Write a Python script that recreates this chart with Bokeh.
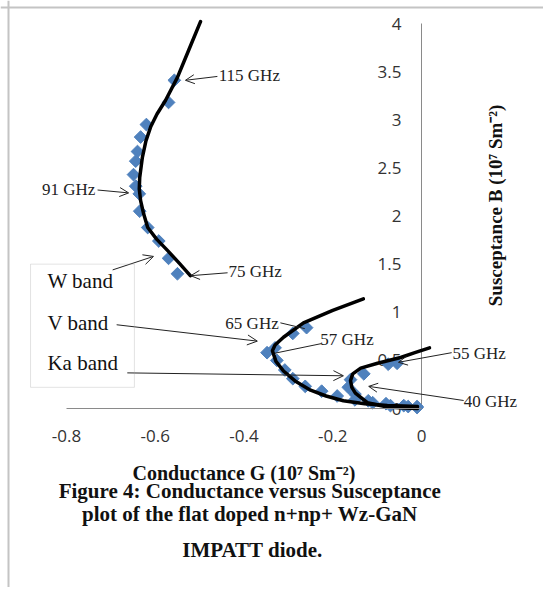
import math
from bokeh.plotting import figure
from bokeh.models import (Range1d, LinearAxis, FixedTicker, Label, Arrow, OpenHead,
                          BoxAnnotation, Span)
from bokeh.embed import file_html
from bokeh.resources import INLINE

# ---------------- data ----------------
# W band measured points
w_g = [-0.557, -0.570, -0.620, -0.633, -0.640, -0.644, -0.649, -0.644, -0.636, -0.635, -0.617, -0.592, -0.570, -0.550]
w_b = [3.41, 3.18, 2.95, 2.82, 2.67, 2.57, 2.43, 2.31, 2.23, 2.05, 1.88, 1.74, 1.56, 1.40]
# W band fitted curve
w_fit_g = [-0.498, -0.524, -0.550, -0.577, -0.596, -0.610, -0.621, -0.629, -0.635, -0.636, -0.633, -0.626, -0.617, -0.597, -0.572, -0.546, -0.521]
w_fit_b = [4.02, 3.73, 3.44, 3.20, 3.06, 2.93, 2.78, 2.61, 2.40, 2.28, 2.16, 2.02, 1.88, 1.76, 1.64, 1.51, 1.38]

# V band measured points
v_g = [-0.259, -0.290, -0.330, -0.348, -0.326, -0.308, -0.290, -0.262, -0.225, -0.190, -0.150, -0.110, -0.070, -0.030, -0.010]
v_b = [0.84, 0.78, 0.63, 0.58, 0.50, 0.40, 0.31, 0.23, 0.18, 0.13, 0.09, 0.06, 0.03, 0.02, 0.01]
# V band fitted curve
v_fit_g = [-0.131, -0.200, -0.266, -0.311, -0.330, -0.336, -0.328, -0.311, -0.283, -0.250, -0.215, -0.176, -0.128, -0.077, -0.040, -0.009]
v_fit_b = [1.14, 1.02, 0.89, 0.74, 0.66, 0.60, 0.49, 0.39, 0.28, 0.19, 0.13, 0.08, 0.05, 0.03, 0.025, 0.02]

# Ka band measured points
ka_g = [-0.055, -0.075, -0.130, -0.160, -0.165, -0.150, -0.120, -0.080, -0.040, -0.010]
ka_b = [0.47, 0.46, 0.36, 0.30, 0.22, 0.15, 0.08, 0.05, 0.03, 0.02]
# Ka band fitted curve
ka_fit_g = [0.018, -0.015, -0.047, -0.099, -0.137, -0.155, -0.160, -0.157, -0.149, -0.122, -0.077, -0.040, -0.009]
ka_fit_b = [0.63, 0.58, 0.53, 0.47, 0.42, 0.36, 0.29, 0.22, 0.16, 0.06, 0.015, 0.005, 0.0]

# axis ticks
x_ticks = [-0.8, -0.6, -0.4, -0.2, 0]
x_tick_labels = ["-0.8", "-0.6", "-0.4", "-0.2", "0"]
y_ticks = [0, 0.5, 1, 1.5, 2, 2.5, 3, 3.5, 4]
y_tick_labels = ["0", "0.5", "1", "1.5", "2", "2.5", "3", "3.5", "4"]

freq_labels = ["115 GHz", "91 GHz", "75 GHz", "65 GHz", "57 GHz", "55 GHz", "40 GHz"]
band_labels = ["W band", "V band", "Ka band"]

# ---------------- figure ----------------
W, H = 543, 587
PX_X = 443.75   # pixels per unit of G
PX_Y = 96.25    # pixels per unit of B
G0_PX, B0_PX = 421, 408   # picture position of the origin
x0 = -G0_PX / PX_X
x1 = (W - G0_PX) / PX_X
y1 = B0_PX / PX_Y
y0 = -(H - B0_PX) / PX_Y

p = figure(width=W, height=H,
           x_range=Range1d(x0, x1), y_range=Range1d(y0, y1),
           x_axis_location=None, y_axis_location=None,
           output_backend="svg", toolbar_location=None,
           min_border=0, min_border_top=0, min_border_right=0,
           min_border_left=0, min_border_bottom=0)
p.outline_line_color = None
p.xgrid.visible = False
p.ygrid.visible = False
p.background_fill_color = "white"
p.border_fill_color = "white"

AX_COLOR = "#8a8a8a"
TICK_FONT = "Open Sans"
SERIF = "Liberation Serif"

# document frame lines (left and top edge of the page)
p.add_layout(Span(location=(8 - G0_PX) / PX_X, dimension="height", line_color="#c4c4c4", line_width=2))
p.add_layout(Span(location=(B0_PX - 7) / PX_Y, dimension="width", line_color="#c4c4c4", line_width=2))

# y axis at G = 0, labels on its left, drawn beneath the data
yax = LinearAxis(ticker=FixedTicker(ticks=y_ticks), fixed_location=0, bounds=(0, 4),
                 major_label_overrides={t: s for t, s in zip(y_ticks, y_tick_labels)})
yax.level = "underlay"
yax.axis_line_color = AX_COLOR
yax.major_tick_in = 0
yax.major_tick_out = 0
yax.minor_tick_line_color = None
yax.major_label_standoff = 20
yax.major_label_text_font = TICK_FONT
yax.major_label_text_font_size = "17px"
yax.major_label_text_color = "#333333"
p.add_layout(yax, "left")

# x axis at B = 0
xax = LinearAxis(ticker=FixedTicker(ticks=x_ticks), fixed_location=0, bounds=(-0.8, 0),
                 major_label_overrides={t: s for t, s in zip(x_ticks, x_tick_labels)},
                 axis_label="Conductance G (10\u2077 Sm\u207b\u00b2)")
xax.axis_line_color = AX_COLOR
xax.major_tick_in = 0
xax.major_tick_out = 0
xax.minor_tick_line_color = None
xax.major_label_standoff = 21
xax.major_label_text_font = TICK_FONT
xax.major_label_text_font_size = "17px"
xax.major_label_text_color = "#333333"
xax.axis_label_standoff = 17
xax.axis_label_text_font = SERIF
xax.axis_label_text_font_style = "bold"
xax.axis_label_text_font_size = "20px"
xax.axis_label_text_color = "#111111"
p.add_layout(xax, "below")

# ---------------- data marks ----------------
BLUE = "#4F81BD"
for g, b in ((w_g, w_b), (v_g, v_b), (ka_g, ka_b)):
    p.scatter(g, b, marker="square", angle=math.pi / 4, size=9,
              fill_color=BLUE, line_color=BLUE)
for g, b in ((w_fit_g, w_fit_b), (v_fit_g, v_fit_b), (ka_fit_g, ka_fit_b)):
    p.line(g, b, line_color="black", line_width=3.5, line_cap="round", line_join="round")

# ---------------- annotations ----------------
freq_pos = [(-0.457, 3.46, "left"), (-0.735, 2.275, "right"), (-0.435, 1.42, "left"),
            (-0.442, 0.883, "left"), (-0.228, 0.717, "left"), (0.070, 0.571, "left"),
            (0.095, 0.073, "left")]
for txt, (lx, ly, al) in zip(freq_labels, freq_pos):
    p.add_layout(Label(x=lx, y=ly, text=txt, text_align=al, text_baseline="middle",
                       text_font=SERIF, text_font_size="17px", text_color="#222222"))

freq_arrows = [((-0.460, 3.45), (-0.532, 3.41), True),
               ((-0.730, 2.27), (-0.660, 2.24), True),
               ((-0.437, 1.41), (-0.520, 1.38), True),
               ((-0.318, 0.89), (-0.263, 0.83), False),
               ((-0.225, 0.675), (-0.330, 0.575), False),
               ((0.068, 0.58), (-0.052, 0.48), True),
               ((0.095, 0.083), (-0.119, 0.23), True)]
band_arrows = [((-0.696, 1.44), (-0.604, 1.58)),
               ((-0.687, 0.87), (-0.370, 0.70)),
               ((-0.663, 0.37), (-0.176, 0.34))]
for (xs, ys), (xe, ye), head in freq_arrows:
    p.add_layout(Arrow(x_start=xs, y_start=ys, x_end=xe, y_end=ye, line_width=1,
                       line_color="#222222",
                       end=OpenHead(size=9, line_width=1, line_color="#222222") if head else None))
for (xs, ys), (xe, ye) in band_arrows:
    p.add_layout(Arrow(x_start=xs, y_start=ys, x_end=xe, y_end=ye, line_width=1,
                       line_color="#222222",
                       end=OpenHead(size=10, line_width=1, line_color="#222222")))

# band label box
p.add_layout(BoxAnnotation(left=-0.881, right=-0.647, top=1.50, bottom=0.22,
                           fill_color=None, line_color="#a0a0a0", line_width=1))
for txt, ly in zip(band_labels, [1.32, 0.89, 0.47]):
    p.add_layout(Label(x=-0.843, y=ly, text=txt, text_align="left", text_baseline="middle",
                       text_font=SERIF, text_font_size="21px", text_color="#111111"))

# y axis title (right side)
p.add_layout(Label(x=0.167, y=2.11, text="Susceptance B (10\u2077 Sm\u207b\u00b2)",
                   angle=math.pi / 2, text_align="center", text_baseline="middle",
                   text_font=SERIF, text_font_style="bold", text_font_size="19px",
                   text_color="#111111"))

# caption
captions = ["Figure 4: Conductance  versus Susceptance",
            "plot of the flat doped n+np+  Wz-GaN",
            "IMPATT diode."]
for txt, ly in zip(captions, [-0.852, -1.091, -1.465]):
    p.add_layout(Label(x=-0.381, y=ly, text=txt, text_align="center", text_baseline="middle",
                       text_font=SERIF, text_font_style="bold", text_font_size="21px",
                       text_color="#111111"))

open("out.html", "w").write(file_html(p, INLINE))
